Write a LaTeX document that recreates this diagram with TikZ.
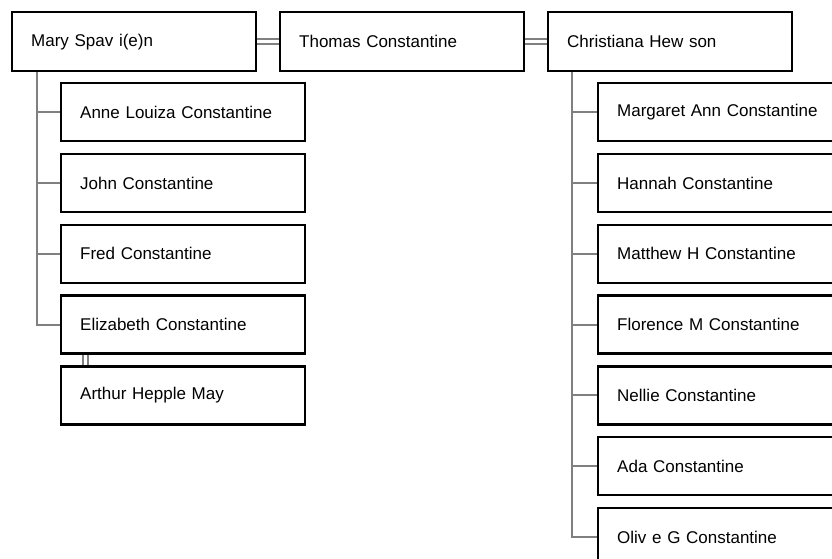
\documentclass[tikz,border=0pt]{standalone}
\usepackage{fontspec}
\setmainfont{Liberation Sans}
\usepackage{tikz}
\usetikzlibrary{positioning}

\begin{document}
\begin{tikzpicture}[x=1pt,y=-1pt,
                    person/.style={draw,line width=2.4pt,anchor=north west,
                                   minimum width=244pt,minimum height=58pt,
                                   text width=206pt,align=left,inner xsep=18pt,
                                   font=\fontsize{17}{20}\selectfont},
                    kin/.style={draw=gray,line width=2pt},
                    spouse/.style={draw=gray,line width=2pt,double=white,double distance=3pt}]
  \useasboundingbox (0,0) rectangle (832,559);

  % parents
  \node[person,minimum height=59pt] (mary) at (11,11) {Mary  Spav i(e)n};
  \node[person,minimum height=59pt] (thomas) at (279,11) {Thomas Constantine};
  \node[person,minimum height=59pt] (chris) at (547,11) {Christiana Hew son};

  % children of the first marriage
  \foreach \name/\lbl [count=\i from 0] in {anne/Anne Louiza Constantine,
                                             john/John Constantine,
                                             fred/Fred Constantine,
                                             eliz/Elizabeth Constantine}
    \node[person] (\name) at (60,82+70.8*\i) {\lbl};
  \node[person] (arthur) at (60,82+70.8*4) {Arthur Hepple May};

  % children of the second marriage
  \foreach \name/\lbl [count=\i from 0] in {margaret/Margaret Ann Constantine,
                                             hannah/Hannah Constantine,
                                             matthew/Matthew  H Constantine,
                                             florence/Florence M Constantine,
                                             nellie/Nellie Constantine,
                                             ada/Ada Constantine,
                                             olive/Oliv e G Constantine}
    \node[person] (\name) at (597,82+70.8*\i) {\lbl};

  % marriages
  \draw[spouse] (mary.east) -- (thomas.west);
  \draw[spouse] (thomas.east) -- (chris.west);
  \draw[spouse] ([xshift=25pt]eliz.south west) -- ([xshift=25pt]arthur.north west);

  % descent
  \foreach \name in {anne,john,fred,eliz}
    \draw[kin] ([xshift=26pt]mary.south west) |- (\name.west);
  \foreach \name in {margaret,hannah,matthew,florence,nellie,ada,olive}
    \draw[kin] ([xshift=25pt]chris.south west) |- (\name.west);
\end{tikzpicture}
\end{document}
